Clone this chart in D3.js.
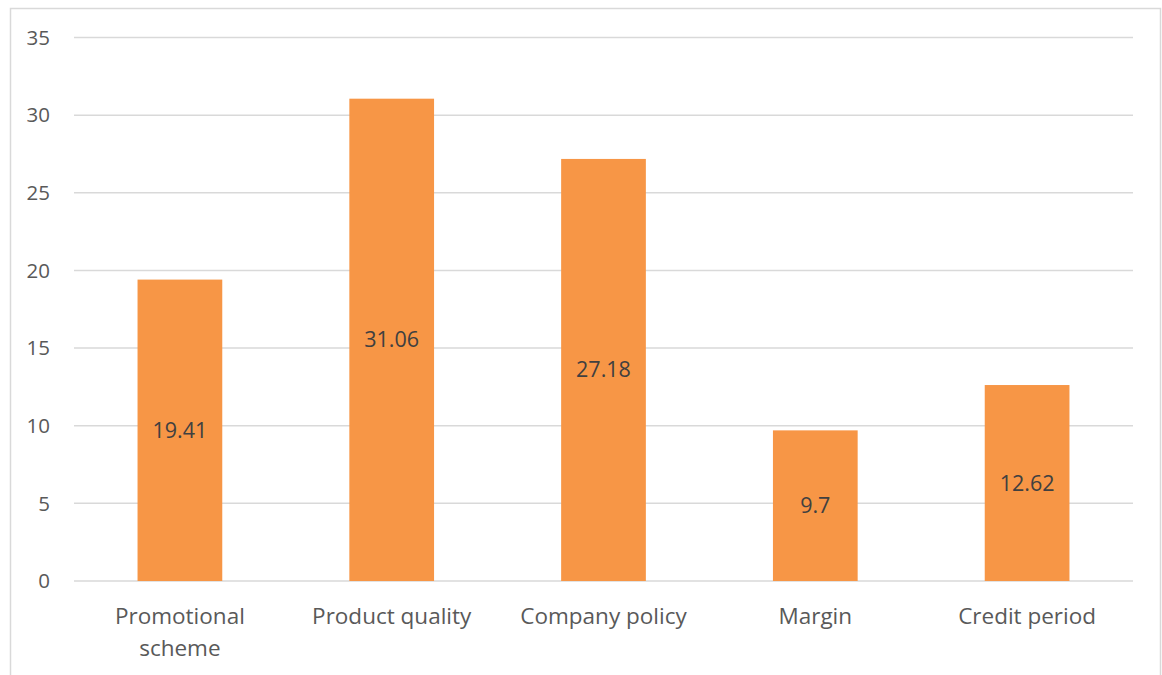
<!DOCTYPE html>
<html>
<head>
<meta charset="utf-8">
<script src="https://cdn.jsdelivr.net/npm/d3@7"></script>
<style>
  body { margin: 0; background: #fff; }
  text { font-family: "Open Sans", "Noto Sans", sans-serif; }
</style>
</head>
<body>
<div id="chart"></div>
<script>
// --- data ---
const categories = [["Promotional", "scheme"], ["Product quality"], ["Company policy"], ["Margin"], ["Credit period"]];
const values = [19.41, 31.06, 27.18, 9.7, 12.62];
const yTicks = [0, 5, 10, 15, 20, 25, 30, 35];

const W = 1162, H = 675;
const margin = { top: 37.5, left: 74, right: 29, bottom: 94 };

const svg = d3.select("#chart").append("svg")
  .attr("width", W)
  .attr("height", H);

// chart frame
svg.append("rect")
  .attr("x", 10.5).attr("y", 8.5)
  .attr("width", 1150).attr("height", 700)
  .attr("fill", "none")
  .attr("stroke", "#d9d9d9")
  .attr("stroke-width", 1.5);

const x = d3.scaleBand()
  .domain(d3.range(values.length))
  .range([margin.left, W - margin.right])
  .paddingInner(0.6)
  .paddingOuter(0.3);

const y = d3.scaleLinear()
  .domain([0, 35])
  .range([581, margin.top]);

// gridlines
svg.append("g")
  .selectAll("line")
  .data(yTicks)
  .enter().append("line")
  .attr("x1", margin.left)
  .attr("x2", W - margin.right)
  .attr("y1", d => y(d))
  .attr("y2", d => y(d))
  .attr("stroke", "#d9d9d9")
  .attr("stroke-width", 1.5);

// y tick labels
svg.append("g")
  .selectAll("text")
  .data(yTicks)
  .enter().append("text")
  .attr("x", 50)
  .attr("y", d => y(d))
  .attr("dy", "0.35em")
  .attr("text-anchor", "end")
  .attr("font-size", 20.5)
  .attr("fill", "#595959")
  .text(d => d);

// bars
svg.append("g")
  .selectAll("rect")
  .data(values)
  .enter().append("rect")
  .attr("x", (d, i) => x(i))
  .attr("width", x.bandwidth())
  .attr("y", d => y(d))
  .attr("height", d => y(0) - y(d))
  .attr("fill", "#f79646");

// value labels
svg.append("g")
  .selectAll("text")
  .data(values)
  .enter().append("text")
  .attr("x", (d, i) => x(i) + x.bandwidth() / 2)
  .attr("y", d => (y(d) + y(0)) / 2)
  .attr("dy", "0.35em")
  .attr("text-anchor", "middle")
  .attr("font-size", 21.5)
  .attr("fill", "#404040")
  .text(d => d);

// category labels
const cat = svg.append("g")
  .selectAll("text")
  .data(categories)
  .enter().append("text")
  .attr("text-anchor", "middle")
  .attr("font-size", 22.5)
  .attr("fill", "#595959");

cat.selectAll("tspan")
  .data((d, i) => d.map(line => ({ line, i })))
  .enter().append("tspan")
  .attr("x", d => x(d.i) + x.bandwidth() / 2)
  .attr("y", (d, j) => 616 + j * 32)
  .attr("dy", "0.35em")
  .text(d => d.line);
</script>
</body>
</html>
